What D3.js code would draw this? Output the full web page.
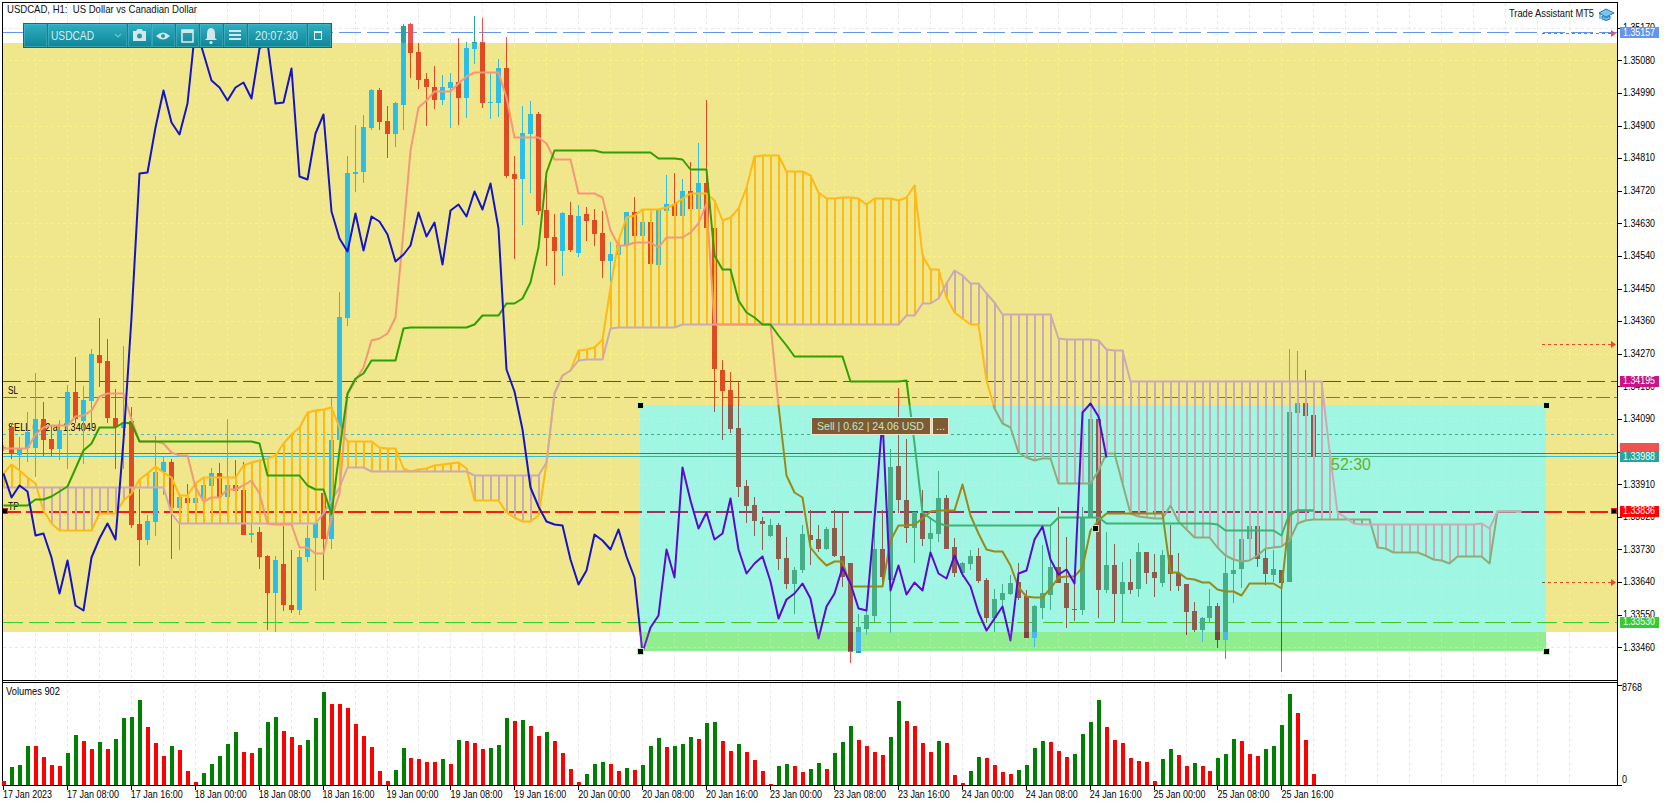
<!DOCTYPE html>
<html><head><meta charset="utf-8">
<script src="https://cdn.jsdelivr.net/npm/d3@7/dist/d3.min.js"></script>
<style>html,body{margin:0;padding:0;background:#fff;overflow:hidden}svg{display:block}text{font-family:"Liberation Sans",Arial,sans-serif}</style>
</head><body><svg id="c" width="1670" height="806"></svg>
<script>
// prices are in points (1.34000 = 134000)
const open=[
134007,134068,133990,134009,134011,134091,134036,134007,134073,134165,
134085,134140,134266,134250,134094,134064,134085,133800,133756,133806,
133944,133971,133845,133871,133859,133868,133905,133942,133875,133907,
133894,133771,133779,133711,133610,133691,133576,133564,133710,133762,
133885,133758,134032,134368,134767,134771,134893,134998,134912,134876,
134956,135180,135102,135028,135006,134970,135003,135020,134976,135111,
135130,134962,134962,135058,134766,134752,134876,134931,134666,134592,
134553,134653,134548,134655,134639,134603,134526,134542,134570,134661,
134595,134633,134515,134664,134683,134650,134719,134669,134741,134617,
134225,134170,134065,133905,133852,133808,133767,133797,133706,133634,
133673,133769,133758,133731,133789,133711,133692,133444,133510,133546,
133731,133645,133960,133866,133789,133830,133758,133772,133872,133736,
133665,133689,133711,133645,133540,133590,133607,133640,133601,133485,
133568,133604,133681,133637,133565,133562,133816,134090,133618,133687,
133607,133640,133620,133722,133667,133637,133714,133665,133634,133560,
133507,133540,133573,133480,133662,133676,133758,133794,133706,133659,
133673,133640,134106,134134,134101];
const high=[
134018,134078,134041,134110,134216,134137,134073,134087,134183,134260,
134181,134282,134368,134312,134174,134291,134124,133898,133825,134043,
133985,133981,133885,133912,133885,133912,133956,133969,134089,133976,
133972,133799,133792,133714,133711,133795,133728,133728,133797,133894,
133885,134147,134440,134815,134901,134929,135000,135003,134953,134964,
135180,135183,135127,135045,135064,135039,135045,135141,135130,135202,
135196,135047,135083,135144,134815,134953,134967,134937,134749,134655,
134661,134688,134680,134675,134669,134664,134578,134584,134661,134702,
134633,134633,134666,134763,134769,134752,134799,134851,134970,134617,
134252,134219,134192,133921,133874,133819,133814,133803,133764,133681,
133797,133838,133797,133791,133838,133833,133692,133551,133568,133811,
133838,134007,134175,134034,133833,133894,133819,133946,133880,133761,
133695,133728,133734,133651,133620,133634,133659,133692,133618,133576,
133742,133794,133847,133764,133665,133847,134090,134090,133778,133745,
133695,133703,133747,133722,133717,133728,133797,133720,133634,133584,
133543,133620,133582,133709,133734,133758,133794,133797,133736,133728,
133673,134283,134277,134225,134101];
const low=[
134001,133981,133949,133972,133930,133987,133987,133976,133953,134078,
133967,134059,134177,134078,133953,133953,133788,133684,133742,133767,
133880,133703,133728,133845,133843,133866,133903,133871,133871,133889,
133769,133747,133676,133507,133503,133561,133556,133549,133696,133616,
133645,133731,134023,134346,134716,134741,134887,134887,134810,134840,
134887,135031,135000,134898,134945,134956,134893,134901,134920,135069,
134948,134918,134923,134755,134531,134625,134713,134653,134512,134459,
134484,134550,134537,134581,134567,134479,134468,134542,134570,134592,
134595,134517,134515,134664,134650,134650,134669,134669,134617,134109,
134032,134051,133874,133803,133767,133728,133764,133673,133620,133551,
133665,133687,133722,133728,133709,133626,133416,133444,133493,133529,
133626,133499,133830,133747,133692,133739,133722,133750,133731,133653,
133653,133673,133637,133526,133502,133554,133604,133590,133485,133460,
133538,133562,133637,133513,133532,133549,133816,133540,133609,133529,
133529,133607,133598,133634,133598,133626,133615,133615,133493,133502,
133474,133529,133458,133427,133582,133623,133758,133681,133631,133640,
133391,133640,134106,134098,133985];
const close=[
134012,133993,134009,134054,134089,134032,134007,134061,134165,134091,
134142,134269,134245,134093,134068,134078,133797,133756,133808,133944,
133971,133845,133875,133859,133871,133907,133942,133875,133909,133892,
133769,133775,133710,133610,133700,133576,133562,133708,133763,133802,
133758,134032,134372,134769,134771,134895,134998,134909,134876,134962,
135174,135100,135025,135006,134970,135006,135020,134976,135114,135130,
134962,134964,135058,134760,134752,134879,134931,134664,134589,134553,
134658,134556,134650,134636,134600,134526,134545,134570,134661,134595,
134633,134517,134666,134683,134650,134719,134669,134741,134617,134228,
134167,134062,133902,133849,133808,133800,133797,133703,133634,133673,
133772,133756,133731,133786,133711,133653,133447,133516,133549,133731,
133653,133957,133866,133789,133833,133758,133775,133872,133731,133665,
133692,133711,133642,133540,133593,133609,133637,133596,133485,133573,
133609,133681,133637,133568,133562,133816,134090,133618,133687,133607,
133640,133618,133722,133665,133651,133714,133662,133629,133557,133507,
133540,133573,133480,133665,133673,133758,133794,133703,133662,133676,
133637,134109,134134,134098,133985];
const tenkan=[
134010,134010,134010,134010,134050,134068,134073,134073,134073,134098,
134101,134114,134154,134162,134162,134162,134091,134030,134030,134030,
134025,133999,133992,133992,133903,133864,133875,133875,133896,133896,
133907,133921,133885,133802,133799,133799,133799,133737,133737,133721,
133721,133820,133885,134160,134197,134234,134308,134313,134327,134371,
134611,134832,134951,134970,134995,134995,134995,135017,135036,135047,
135047,135047,135047,134978,134868,134868,134868,134868,134851,134807,
134807,134807,134713,134713,134713,134702,134611,134570,134570,134578,
134578,134578,134564,134592,134592,134592,134606,134630,134686,134352,
134352,134352,134352,134352,134352,134352,134352,134128,133935,133888,
133874,133736,133709,133687,133698,133698,133629,133629,133629,133629,
133629,133756,133797,133797,133800,133816,133836,133838,133838,133838,
133910,133825,133775,133731,133725,133725,133687,133626,133601,133598,
133598,133623,133653,133656,133656,133681,133783,133811,133830,133830,
133830,133830,133830,133830,133830,133830,133667,133667,133651,133648,
133640,133640,133620,133615,133615,133604,133637,133637,133637,133637,
133623,133825,133838,133838,133838];
const kijun=[
133852,133852,133852,133852,133869,133869,133877,133891,133905,133954,
134004,134023,134067,134067,134067,134081,134079,134029,134029,134029,
134029,134029,134029,134029,134029,134029,134029,134029,134029,134029,
134029,134029,134023,133935,133935,133935,133935,133935,133907,133896,
133896,133827,134004,134161,134203,134217,134252,134252,134252,134252,
134341,134343,134343,134343,134343,134343,134343,134343,134343,134352,
134377,134377,134377,134410,134410,134423,134468,134564,134771,134832,
134832,134832,134832,134832,134832,134826,134826,134826,134826,134826,
134826,134826,134810,134810,134810,134807,134780,134780,134780,134542,
134504,134504,134418,134385,134371,134352,134352,134321,134294,134263,
134263,134263,134263,134263,134263,134263,134194,134194,134194,134194,
134194,134194,134194,134197,134023,133833,133816,133803,133797,133797,
133797,133797,133797,133797,133797,133797,133797,133797,133797,133797,
133797,133797,133819,133819,133819,133819,133819,133819,133803,133803,
133803,133803,133803,133803,133803,133803,133803,133803,133803,133803,
133803,133803,133800,133783,133783,133783,133783,133783,133783,133783,
133769,133830,133838,133838,133838];
const spanA=[
133941,133965,133949,133929,133913,133838,133803,133783,133783,133783,
133783,133783,133830,133830,133830,133866,133885,133924,133941,133960,
133943,133929,133880,133880,133913,133929,133929,133929,133929,133929,
133963,133971,133976,133982,133990,134023,134048,134067,134109,134114,
134117,134123,134067,134029,134029,134029,134029,134012,134010,134010,
133954,133946,133952,133954,133963,133965,133968,133971,133954,133866,
133866,133866,133866,133833,133819,133808,133808,133825,133968,134161,
134211,134225,134280,134283,134288,134310,134454,134584,134647,134653,
134669,134669,134669,134675,134683,134700,134713,134713,134713,134694,
134639,134647,134672,134730,134815,134818,134818,134818,134774,134774,
134774,134763,134716,134700,134700,134702,134702,134700,134683,134700,
134700,134700,134694,134702,134735,134542,134504,134504,134426,134385,
134368,134352,134352,134197,134120,134079,134067,133998,133985,133976,
133982,133982,133913,133913,133913,133913,133913,133949,133996,133996,
133913,133830,133822,133819,133816,133816,133852,133808,133786,133764,
133764,133764,133736,133714,133703,133698,133700,133714,133734,133736,
133739,133756,133803,133811,133814,133814,133814,133814,133814,133814,
133814,133814,133736,133734,133722,133722,133722,133722,133714,133703,
133700,133692,133711,133711,133711,133711,133692,133836,133836,133836,133836];
const spanB=[
133902,133902,133902,133902,133902,133902,133902,133902,133902,133902,
133902,133902,133902,133902,133902,133902,133902,133902,133902,133902,
133902,133830,133803,133803,133803,133803,133803,133803,133803,133803,
133803,133803,133803,133803,133803,133803,133803,133803,133803,133803,
133830,133866,133902,133957,133957,133957,133946,133946,133946,133946,
133946,133946,133946,133946,133946,133946,133946,133946,133946,133935,
133935,133935,133935,133935,133935,133935,133935,133935,133971,134161,
134211,134225,134252,134255,134255,134255,134341,134343,134343,134343,
134343,134343,134343,134343,134343,134352,134352,134352,134352,134352,
134352,134352,134352,134352,134352,134352,134352,134352,134352,134352,
134352,134352,134352,134352,134352,134352,134352,134352,134352,134352,
134352,134352,134352,134377,134377,134410,134410,134423,134465,134501,
134487,134465,134465,134437,134412,134379,134379,134379,134379,134379,
134379,134379,134313,134310,134310,134310,134310,134308,134283,134280,
134280,134194,134194,134194,134194,134194,134194,134194,134194,134194,
134194,134194,134194,134194,134194,134194,134194,134194,134194,134194,
134194,134194,134194,134194,134194,134194,134004,133833,133819,133803,
133800,133800,133800,133800,133800,133800,133800,133800,133800,133800,
133800,133800,133800,133800,133800,133803,133789,133836,133836,133836,133836];
const volume=[
375,1586,1759,3403,3400,2451,1750,1673,2797,4355,
3836,3144,3749,3144,4009,5826,5912,7383,5047,3663,
2538,3403,3057,1240,288,1067,1846,2538,3576,4614,
2884,2797,3230,5480,5912,4701,4182,3490,3922,5826,
8075,7037,7030,6691,5307,4268,3317,1240,375,1327,
3230,2365,2278,2019,2010,2278,1846,3922,3836,3663,
3144,3230,3490,5826,5566,5653,5134,4268,4614,3836,
2797,1413,288,981,1846,2019,1840,1240,1500,1327,
1759,3403,4095,3317,3403,3576,4182,4009,5393,5480,
3836,2971,3576,2884,2192,1240,115,1673,1846,1673,
1154,1413,1932,1413,2797,3749,5134,3922,3403,2884,
2624,4182,7297,5566,5134,3663,2884,3836,3663,894,
202,1240,2451,2365,1759,1154,981,1327,1759,3230,
3836,3749,2971,2451,2711,4441,5480,7383,5047,3922,
3663,2365,2105,2019,375,2278,3144,2624,1673,1932,
1673,1240,2365,2711,4009,3836,2711,2538,3144,3403,
5220,7902,6258,3922,981];
const dateLabels=["17 Jan 2023","17 Jan 08:00","17 Jan 16:00","18 Jan 00:00","18 Jan 08:00","18 Jan 16:00","19 Jan 00:00","19 Jan 08:00","19 Jan 16:00","20 Jan 00:00","20 Jan 08:00","20 Jan 16:00","23 Jan 00:00","23 Jan 08:00","23 Jan 16:00","24 Jan 00:00","24 Jan 08:00","24 Jan 16:00","25 Jan 00:00","25 Jan 08:00","25 Jan 16:00"];
const priceTicks=[135170,135080,134990,134900,134810,134720,134630,134540,134450,134360,134270,134180,134090,134000,133910,133820,133730,133640,133550,133460];
const boxBars=[79.75,193.12], boxPrices=[134128,133449], zonePrices=[135128,133502];
const volTicks=[0,8768];
const levels=[
 {p:135157,true:"#6495ED",dash:"22,6",w:1},
 {p:134195,d:"#B0206C",box:"#A02A78",dash:"18,6",w:1},
 {p:134152,d:"#E8482A",dash:"14,4,5,4",w:1},
 {p:134049,d:"#29BFE9",dash:"3,3",w:1},
 {p:133995,d:"#E04A23",dash:null,w:1},
 {p:133987,d:"#29BFE9",dash:null,w:1},
 {p:133836,d:"#F0200A",dash:"18,5",w:2},
 {p:133530,d:"#32D232",box:"#44C81E",dash:"20,6",w:1}];
const arrows=[135155,134297,133640];
const priceLabels=[
 {p:135157,t:"1.35157",bg:"#6495ED"},{p:134195,t:"1.34195",bg:"#C71585"},
 {p:134009,t:"",bg:"#EF5350"},{p:133987,t:"1.33988",bg:"#26A69A"},
 {p:133836,t:"1.33836",bg:"#FF0000"},{p:133530,t:"1.33530",bg:"#32CD32"}];

const svg=d3.select("#c");
const x=d3.scaleLinear().domain([0,164]).range([3,3+7.99*164]);
const y=d3.scaleLinear().domain([135080,133460]).range([60.3,647.3]);
const yv=d3.scaleLinear().domain([0,8768]).range([785,684.5]);
const L=3,R=1617,T=3,B=680;

const Y=[15,25,115],BX=[111,17,111];
const rgb=c=>{const k=d3.rgb(c);return [k.r,k.g,k.b]};
const xr=(a,b)=>a.map((v,i)=>v^b[i]);
const str=a=>`rgb(${a[0]},${a[1]},${a[2]})`;
const xforms={
 yellow:c=>str(rgb(c)),
 box:c=>str(xr(rgb(c),BX)),
 strip:c=>str(xr(xr(rgb(c),BX),Y)),
 white:c=>str(xr(rgb(c),Y))};
const fromTrue=c=>str(xr(rgb(c),Y));
const DUP="#29BFE9",DDN="#E04A23",DSAL="#F59878",DKIJ="#2FA000",DA="#FFBA14",DB="#CCA9B5",DCH="#1414C8";
const gridColor={yellow:"#F8F47E",box:"#BDEDF0",strip:"#A8F0A8",white:"#E8E8E8"};

const zx0=Math.round(x(boxBars[0])),zx1=Math.round(x(boxBars[1]));
const by0=Math.round(y(boxPrices[0])),by1=Math.round(y(boxPrices[1]));
const zy0=Math.round(y(zonePrices[0])),zy1=Math.round(y(zonePrices[1]));
const rectP=(a,b,c,d)=>`M${a},${b}H${c}V${d}H${a}Z`;
const defs=svg.append("defs");
const regions={
 white:{path:rectP(L,T,R,B)+rectP(L,zy0,R,zy1)+rectP(zx0,zy1,zx1,by1),bg:"#ffffff"},
 yellow:{path:rectP(L,zy0,R,zy1)+rectP(zx0,by0,zx1,zy1),bg:"#F0E68C"},
 box:{path:rectP(zx0,by0,zx1,zy1),bg:"#9FF7E3"},
 strip:{path:rectP(zx0,zy1,zx1,by1),bg:"#90EE90"}};
Object.entries(regions).forEach(([k,r])=>{
 defs.append("clipPath").attr("id","clip-"+k).append("path").attr("d",r.path).attr("clip-rule","evenodd");
});

const bars=d3.range(close.length);
const clr=(k,d,over)=>(k==="box"&&over)?over:xforms[k](d);
const lineGen=(vals)=>d3.line().x((d,i)=>Math.round(x(i))+.5).y(d=>Math.round(y(d))+.5)(vals);
const tx=(par,s,a,b,o={})=>par.append("text").attr("x",a).attr("y",b).text(s)
 .attr("font-size",o.size||10.5).attr("fill",o.fill||"#000").attr("text-anchor",o.anchor||"start")
 .attr("dominant-baseline","middle").attr("textLength",o.len||null).attr("lengthAdjust","spacingAndGlyphs");

function drawLayer(k){
 const t=xforms[k];
 const g=svg.append("g").attr("clip-path",`url(#clip-${k})`);
 g.append("rect").attr("x",L).attr("y",T).attr("width",R-L).attr("height",B-T).attr("fill",regions[k].bg);
 // grid
 const gr=g.append("g").attr("stroke",gridColor[k]).attr("stroke-dasharray","3,3").attr("shape-rendering","crispEdges");
 gr.selectAll("line.h").data(priceTicks).join("line").attr("x1",L).attr("x2",R).attr("y1",d=>Math.round(y(d))+.5).attr("y2",d=>Math.round(y(d))+.5);
 gr.selectAll("line.v").data(d3.range(4,200,4)).join("line").attr("x1",d=>Math.round(x(d))+.5).attr("x2",d=>Math.round(x(d))+.5).attr("y1",T).attr("y2",B);
 // level lines
 g.append("g").attr("shape-rendering","crispEdges").selectAll("line").data(levels).join("line")
  .attr("x1",L).attr("x2",R).attr("y1",d=>Math.round(y(d.p))+.5).attr("y2",d=>Math.round(y(d.p))+.5)
  .attr("stroke",d=>clr(k,d.d||fromTrue(d.true),d.box)).attr("stroke-width",d=>d.w).attr("stroke-dasharray",d=>d.dash);
 if(k==="yellow"){
  tx(g,"SL",8,391,{len:10});
  tx(g,"SELL 0.62 at 1.34049",8,428,{len:88});
  tx(g,"TP",8,507,{len:11});
 }
 // arrows
 const ag=g.append("g").selectAll("g").data(arrows).join("g");
 ag.append("line").attr("x1",1542).attr("x2",1612).attr("y1",d=>Math.round(y(d))+.5).attr("y2",d=>Math.round(y(d))+.5)
  .attr("stroke",t("#E8482A")).attr("stroke-dasharray","3,3").attr("shape-rendering","crispEdges");
 ag.append("path").attr("d",d=>{const v=Math.round(y(d))+.5;return `M1611,${v-3.5}L1616,${v}L1611,${v+3.5}Z`}).attr("fill",t("#E8482A"));
 // candles
 const cg=g.append("g").attr("shape-rendering","crispEdges");
 const col=i=>close[i]>=open[i]?t(DUP):t(DDN);
 cg.selectAll("rect.w").data(bars).join("rect").attr("x",i=>Math.round(x(i))).attr("width",1)
  .attr("y",i=>y(high[i])).attr("height",i=>y(low[i])-y(high[i])).attr("fill",col);
 cg.selectAll("rect.b").data(bars).join("rect").attr("x",i=>Math.round(x(i))-2).attr("width",5)
  .attr("y",i=>y(Math.max(open[i],close[i]))).attr("height",i=>Math.max(1,Math.abs(y(open[i])-y(close[i])))).attr("fill",col);
 // cloud hatch
 const hc=g.append("g").attr("shape-rendering","crispEdges").attr("stroke-width",2);
 hc.selectAll("line").data(d3.range(spanA.length)).join("line")
  .attr("x1",i=>Math.round(x(i))+.5).attr("x2",i=>Math.round(x(i))+.5)
  .attr("y1",i=>y(spanA[i])).attr("y2",i=>y(spanB[i]))
  .attr("stroke",i=>spanA[i]>=spanB[i]?t(DA):clr(k,DB,DB));
 // lines
 const series=[[spanA,t(DA)],[spanB,clr(k,DB,DB)],[tenkan,t(DSAL)],[kijun,t(DKIJ)],[close.slice(26),clr(k,DCH,"#5C08D2")]];
 g.append("g").selectAll("path").data(series).join("path")
  .attr("d",d=>lineGen(d[0])).attr("fill","none").attr("stroke",d=>d[1]).attr("stroke-width",2)
  .attr("stroke-linejoin","round");
}
Object.keys(regions).forEach(drawLayer);

// overlay text on chart
tx(svg,"USDCAD, H1:  US Dollar vs Canadian Dollar",7,10,{size:11,len:190,fill:"#111"}).attr("xml:space","preserve");

// Sell tag
svg.append("rect").attr("x",811.5).attr("y",417.5).attr("width",119).attr("height",17).attr("fill","#7F5B35").attr("stroke","#EFE5C8");
svg.append("rect").attr("x",932.5).attr("y",417.5).attr("width",16).attr("height",17).attr("fill","#7F5B35").attr("stroke","#EFE5C8");
tx(svg,"Sell | 0.62 | 24.06 USD",817,426.5,{size:11.5,fill:"#BFE8C4",len:107});
tx(svg,"...",936,427,{size:11,fill:"#EFE5C8"});
tx(svg,"52:30",1331,465.5,{size:17,fill:"#6AAF20",len:40});

// handles
const handles=[[x(boxBars[0]),by0],[x(boxBars[1]),by0],[x(boxBars[0]),by1],[x(boxBars[1]),by1],[1095,528]];
svg.selectAll("rect.hd").data(handles).join("rect").attr("x",d=>Math.round(d[0])-3).attr("y",d=>d[1]-3).attr("width",6).attr("height",6)
 .attr("fill","#000").attr("stroke","#B8F0B0").attr("stroke-width",1).attr("shape-rendering","crispEdges");
svg.selectAll("rect.hr").data([5,1614]).join("rect").attr("x",d=>d-2.5).attr("y",y(133836)-2.5).attr("width",5).attr("height",5)
 .attr("fill","#000").attr("stroke","#E02020").attr("stroke-width",1).attr("shape-rendering","crispEdges");

// frames
const fr=svg.append("g").attr("stroke","#000").attr("shape-rendering","crispEdges");
fr.append("line").attr("x1",2).attr("x2",1618).attr("y1",2.5).attr("y2",2.5);
fr.append("line").attr("x1",2.5).attr("x2",2.5).attr("y1",2).attr("y2",786);
fr.append("line").attr("x1",1617.5).attr("x2",1617.5).attr("y1",2).attr("y2",786);
fr.append("line").attr("x1",2).attr("x2",1618).attr("y1",680.5).attr("y2",680.5);
fr.append("line").attr("x1",2).attr("x2",1618).attr("y1",682.5).attr("y2",682.5);
fr.append("line").attr("x1",2).attr("x2",1618).attr("y1",785.5).attr("y2",785.5).attr("stroke-width",1.5);

// price axis
const ax=svg.append("g");
ax.selectAll("line").data(priceTicks).join("line").attr("x1",1618).attr("x2",1622).attr("y1",d=>Math.round(y(d))+.5).attr("y2",d=>Math.round(y(d))+.5).attr("stroke","#000").attr("shape-rendering","crispEdges");
priceTicks.forEach(p=>tx(svg,(p/1e5).toFixed(5),1623,y(p)+.5,{len:32}));
priceLabels.forEach(l=>{
 const v=y(l.p);
 svg.append("rect").attr("x",1620).attr("y",Math.round(v)-5).attr("width",39).attr("height",11).attr("fill",l.bg);
 if(l.t) tx(svg,l.t,1623,v+.5,{fill:"#fff",len:32});
});

// volume pane
const vg=svg.append("g");
vg.append("g").attr("stroke","#E8E8E8").attr("stroke-dasharray","3,3").attr("shape-rendering","crispEdges")
 .selectAll("line").data(d3.range(4,200,4)).join("line").attr("x1",d=>Math.round(x(d))+.5).attr("x2",d=>Math.round(x(d))+.5).attr("y1",684).attr("y2",785);
vg.append("g").attr("shape-rendering","crispEdges").selectAll("rect").data(bars).join("rect")
 .attr("x",i=>Math.round(x(i))-1).attr("width",4).attr("y",i=>yv(volume[i])).attr("height",i=>785-yv(volume[i]))
 .attr("fill",i=>i>0&&volume[i]>volume[i-1]?"#008000":"#FF0000");
tx(svg,"Volumes 902",6,692,{len:54});
volTicks.forEach(v=>{
 svg.append("line").attr("x1",1618).attr("x2",1622).attr("y1",Math.round(yv(v))+.5).attr("y2",Math.round(yv(v))+.5).attr("stroke","#000").attr("shape-rendering","crispEdges");
});
tx(svg,"8768",1622,688,{size:10,len:20});
tx(svg,"0",1622,780,{size:10,len:5});

// time axis
const ticksX=dateLabels.map((s,i)=>i*8);
svg.append("g").selectAll("line").data(ticksX).join("line").attr("x1",d=>Math.round(x(d))+.5).attr("x2",d=>Math.round(x(d))+.5).attr("y1",786).attr("y2",790).attr("stroke","#000").attr("shape-rendering","crispEdges");
dateLabels.forEach((s,i)=>tx(svg,s,x(i*8),795,{len:i===0?49:52}));

// Trade Assistant
tx(svg,"Trade Assistant MT5",1509,14,{size:11,len:85,fill:"#111"});
const cap=svg.append("g").attr("fill","#7FC4EC").attr("stroke","#1E78B4").attr("stroke-width",1);
cap.append("path").attr("d","M1606,9L1614,13L1606,17L1599,13Z");
cap.append("path").attr("d","M1602,16V19Q1606,22 1610,19V16L1606,18Z");
cap.append("path").attr("d","M1600,13V19").attr("fill","none");

// toolbar
const gd=defs.append("linearGradient").attr("id","tb").attr("x1",0).attr("x2",0).attr("y1",0).attr("y2",1);
gd.append("stop").attr("offset",0).attr("stop-color","#2FAEC2");gd.append("stop").attr("offset",1).attr("stop-color","#108799");
const tb=svg.append("g");
tb.append("rect").attr("x",23).attr("y",23).attr("width",308).attr("height",24).attr("fill","#0E8596").attr("stroke","#0B6E7E").attr("shape-rendering","crispEdges");
const segs=[[24,22],[48,78],[128,23],[152,22],[176,22],[200,22],[224,22],[248,58],[308,22]];
tb.selectAll("rect.s").data(segs).join("rect").attr("x",d=>d[0]).attr("y",24).attr("width",d=>d[1]).attr("height",22)
 .attr("fill","url(#tb)").attr("stroke","#5CC0CF").attr("stroke-opacity",.45).attr("shape-rendering","crispEdges");
tx(svg,"USDCAD",51,37,{size:12,fill:"#D8EEF0",len:43});
tx(svg,"20:07:30",255,37,{size:12,fill:"#D8EEF0",len:43});
tb.append("path").attr("d","M115,34l3,3l3,-3").attr("fill","none").attr("stroke","#6FC3CF").attr("stroke-width",1.2);
const ic="#D5E6E6";
tb.append("path").attr("d","M133,31h3l1.5,-2h4l1.5,2h3v10h-13Z").attr("fill",ic);
tb.append("circle").attr("cx",139.5).attr("cy",36).attr("r",2.5).attr("fill","#1F9DB0");
tb.append("path").attr("d","M156,36q7,-7 14,0q-7,7 -14,0Z").attr("fill",ic);
tb.append("circle").attr("cx",163).attr("cy",36).attr("r",2).attr("fill","#1F9DB0");
tb.append("rect").attr("x",182).attr("y",30).attr("width",11).attr("height",12).attr("fill","none").attr("stroke",ic).attr("stroke-width",1.6);
tb.append("rect").attr("x",182).attr("y",30).attr("width",11).attr("height",3).attr("fill",ic);
tb.append("path").attr("d","M211,28q4,0 4,6v4l2,2h-12l2,-2v-4q0,-6 4,-6Z").attr("fill",ic);
tb.append("circle").attr("cx",211).attr("cy",42.5).attr("r",1.6).attr("fill",ic);
tb.selectAll("rect.m").data([31,35,39]).join("rect").attr("x",229).attr("y",d=>d-1).attr("width",12).attr("height",2).attr("fill",ic);
tb.append("rect").attr("x",314.5).attr("y",32.5).attr("width",7).attr("height",7).attr("fill","none").attr("stroke","#E8F4F4").attr("stroke-width",1.4).attr("shape-rendering","crispEdges");
tb.append("rect").attr("x",314).attr("y",31).attr("width",8).attr("height",2).attr("fill","#E8F4F4");
</script></body></html>
